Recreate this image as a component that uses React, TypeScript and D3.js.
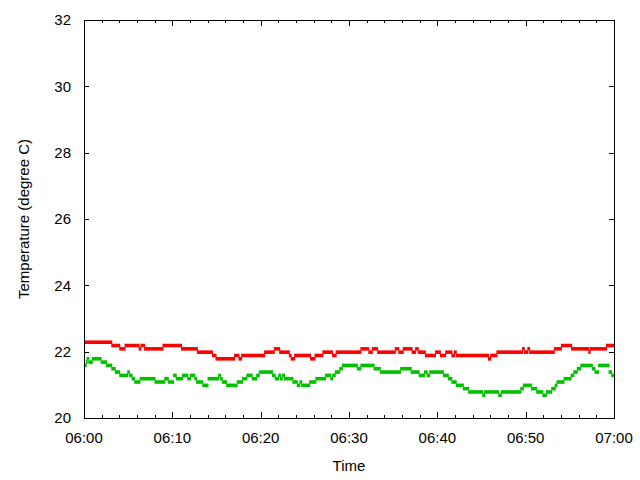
import React from "react";
import * as d3 from "d3";

const W = 640, H = 480;
const M = { left: 84, right: 614, top: 20, bottom: 418 };

const yTicks = [20, 22, 24, 26, 28, 30, 32];
const xTickMinutes = [0, 10, 20, 30, 40, 50, 60];
const xTickLabels = ["06:00", "06:10", "06:20", "06:30", "06:40", "06:50", "07:00"];
const xMinorMinutes = d3.range(0, 61, 2);

// change points: minutes after 06:00, temperature
const redTimes = [0, 3.2, 4.1, 4.7, 6.3, 6.5, 6.9, 9.0, 11.1, 12.9, 14.6, 15.0, 17.1, 17.6, 17.9, 20.5, 21.6, 22.2, 23.3, 23.5, 23.9, 25.7, 26.2, 27.1, 28.2, 28.6, 31.4, 32.3, 32.7, 33.3, 35.3, 35.7, 36.2, 37.2, 37.6, 37.9, 38.7, 39.85, 40.4, 41.0, 41.7, 42.0, 42.2, 45.85, 46.1, 46.8, 49.7, 49.9, 50.3, 50.5, 53.3, 54.1, 55.25, 57.2, 57.35, 59.2];
const redValues = [22.3, 22.2, 22.1, 22.2, 22.1, 22.2, 22.1, 22.2, 22.1, 22.0, 21.9, 21.8, 21.9, 21.8, 21.9, 22.0, 22.1, 22.0, 21.9, 21.8, 21.9, 21.8, 21.9, 22.0, 21.9, 22.0, 22.1, 22.0, 22.1, 22.0, 22.1, 22.0, 22.1, 22.0, 22.1, 22.0, 21.9, 22.0, 21.9, 22.0, 21.9, 22.0, 21.9, 21.8, 21.9, 22.0, 22.1, 22.0, 22.1, 22.0, 22.1, 22.2, 22.1, 22.0, 22.1, 22.2];

const greenTimes = [0, 0.3, 0.4, 0.6, 1.0, 2.0, 2.6, 3.2, 3.6, 4.1, 5.0, 5.2, 5.5, 5.8, 6.4, 8.1, 9.2, 9.6, 10.2, 10.5, 11.2, 11.8, 12.1, 12.6, 12.8, 13.5, 14.1, 15.3, 15.5, 15.7, 16.2, 17.4, 18.0, 18.5, 19.1, 19.6, 19.9, 21.4, 21.7, 22.1, 22.3, 22.5, 22.75, 23.7, 24.2, 24.5, 24.7, 25.6, 26.3, 27.4, 28.0, 28.2, 28.5, 29.0, 29.3, 31.0, 31.4, 32.9, 33.6, 35.9, 37.1, 38.0, 38.6, 38.9, 39.2, 40.75, 41.3, 41.7, 42.2, 43.0, 43.6, 45.2, 45.4, 47.0, 47.3, 49.5, 49.8, 50.7, 51.3, 52.0, 52.4, 53.0, 53.4, 53.6, 54.4, 55.2, 55.5, 55.9, 56.3, 57.6, 57.9, 58.3, 59.5, 59.8];
const greenValues = [21.6, 21.7, 21.8, 21.7, 21.8, 21.7, 21.6, 21.5, 21.4, 21.3, 21.4, 21.3, 21.2, 21.1, 21.2, 21.1, 21.2, 21.1, 21.3, 21.2, 21.3, 21.2, 21.3, 21.2, 21.1, 21.0, 21.2, 21.3, 21.2, 21.1, 21.0, 21.1, 21.2, 21.3, 21.2, 21.3, 21.4, 21.3, 21.2, 21.3, 21.2, 21.3, 21.2, 21.1, 21.0, 21.1, 21.0, 21.1, 21.2, 21.3, 21.2, 21.3, 21.4, 21.5, 21.6, 21.5, 21.6, 21.5, 21.4, 21.5, 21.4, 21.3, 21.4, 21.3, 21.4, 21.3, 21.2, 21.1, 21.0, 20.9, 20.8, 20.7, 20.8, 20.7, 20.8, 20.9, 21.0, 20.9, 20.8, 20.7, 20.8, 20.9, 21.0, 21.1, 21.2, 21.3, 21.4, 21.5, 21.6, 21.5, 21.4, 21.6, 21.4, 21.3];

const END = 60;

const x = d3.scaleLinear().domain([0, 60]).range([M.left, M.right]);
const y = d3.scaleLinear().domain([20, 32]).range([M.bottom, M.top]);

function Series({ times, values, color }: { times: number[]; values: number[]; color: string }) {
  return (
    <g>
      {times.map((t, i) => {
        const t2 = i + 1 < times.length ? times[i + 1] : END;
        const x1 = x(t), x2 = x(t2);
        const yy = y(values[i]) + 0.5;
        return (
          <rect key={i} x={x1 - 1} y={yy - 1.8} width={Math.max(2, x2 - x1 + 1)} height={3.6} fill={color} />
        );
      })}
    </g>
  );
}

export default function App() {
  const font = "'Liberation Sans', Arial, sans-serif";
  return (
    <svg width={W} height={H} style={{ display: "block", position: "absolute", left: 0, top: 0 }} fontFamily={font}>
      <rect width={W} height={H} fill="#fff" />
      <g clipPath="url(#clip)">
        <Series times={redTimes} values={redValues} color="#ff0000" />
        <Series times={greenTimes} values={greenValues} color="#00c000" />
      </g>
      <defs>
        <clipPath id="clip">
          <rect x={M.left} y={M.top} width={M.right - M.left} height={M.bottom - M.top} />
        </clipPath>
      </defs>
      {/* ticks */}
      <g stroke="#000" strokeWidth={1} shapeRendering="crispEdges">
        {yTicks.map((v) => (
          <g key={"y" + v}>
            <line x1={M.left} x2={M.left + 5} y1={Math.round(y(v)) + 0.5} y2={Math.round(y(v)) + 0.5} />
            <line x1={M.right} x2={M.right - 5} y1={Math.round(y(v)) + 0.5} y2={Math.round(y(v)) + 0.5} />
          </g>
        ))}
        {xMinorMinutes.map((m) => {
          const len = m % 10 === 0 ? 6 : 3;
          const xx = Math.round(x(m)) + 0.5;
          return (
            <g key={"x" + m}>
              <line x1={xx} x2={xx} y1={M.bottom} y2={M.bottom - len} />
              <line x1={xx} x2={xx} y1={M.top} y2={M.top + len} />
            </g>
          );
        })}
        <rect x={M.left + 0.5} y={M.top + 0.5} width={M.right - M.left} height={M.bottom - M.top} fill="none" />
      </g>
      {/* labels */}
      <g fontSize={15} fill="#000">
        {yTicks.map((v) => (
          <text key={"yl" + v} x={71} y={y(v)} dy="0.36em" textAnchor="end">{v}</text>
        ))}
        {xTickMinutes.map((m, i) => (
          <text key={"xl" + m} x={x(m)} y={443} textAnchor="middle">{xTickLabels[i]}</text>
        ))}
        <text x={(M.left + M.right) / 2} y={471} textAnchor="middle">Time</text>
        <text transform={`translate(29,${(M.top + M.bottom) / 2}) rotate(-90)`} textAnchor="middle">Temperature (degree C)</text>
      </g>
    </svg>
  );
}
